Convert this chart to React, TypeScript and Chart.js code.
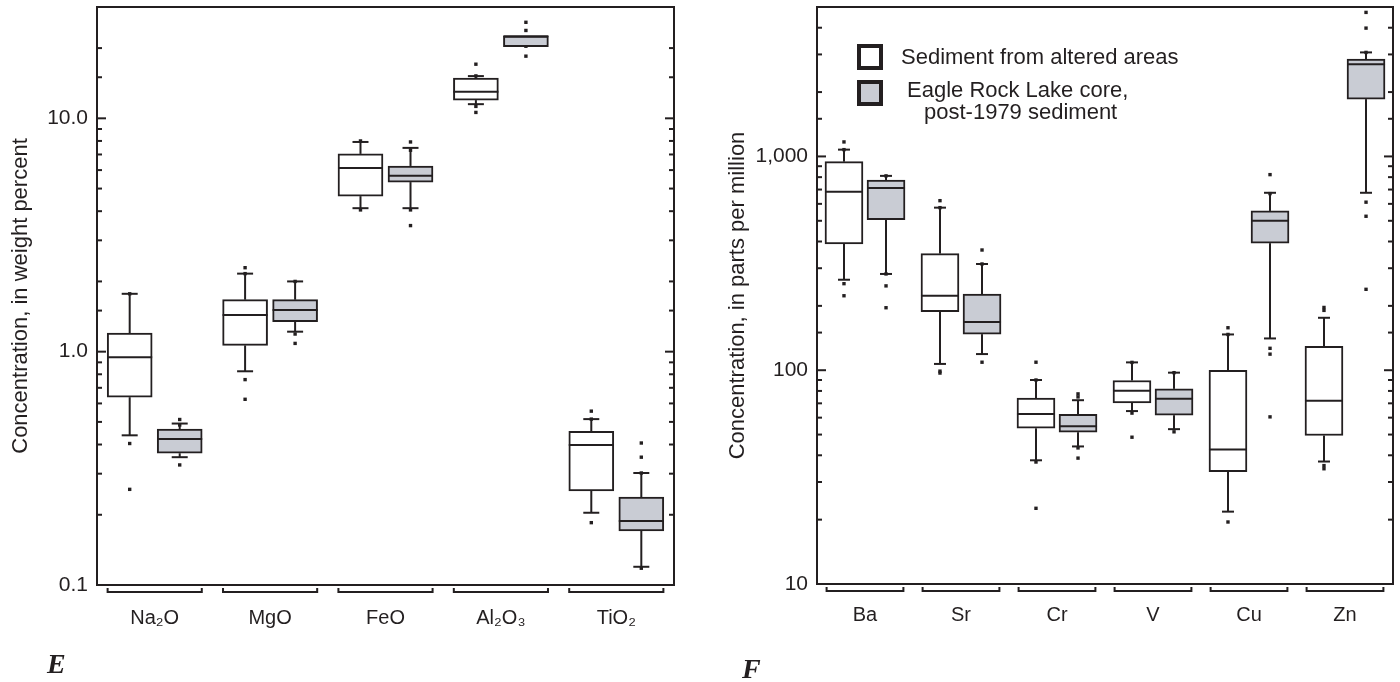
import React, { useEffect, useRef } from 'react';
import { Chart, registerables } from 'chart.js';

Chart.register(...registerables);

const INK = '#231f20';
const GRAY = '#c9ccd4';
const FONT = '"Liberation Sans", Arial, Helvetica, sans-serif';

// ---------- Panel E: major oxides (weight percent) ----------
const oxideCategories = ['Na₂O', 'MgO', 'FeO', 'Al₂O₃', 'TiO₂'];
// each row: [lower whisker, Q1, median, Q3, upper whisker]
const oxideAlteredStats = [
  [0.438, 0.638, 0.946, 1.2, 1.77],
  [0.824, 1.064, 1.435, 1.67, 2.16],
  [4.12, 4.64, 6.13, 7.04, 7.92],
  [11.5, 11.97, 13.0, 14.87, 15.17],
  [0.204, 0.253, 0.398, 0.456, 0.514],
];
const oxideLakeStats = [
  [0.353, 0.367, 0.422, 0.466, 0.492],
  [1.218, 1.343, 1.51, 1.67, 2.0],
  [4.12, 5.33, 5.67, 6.25, 7.47],
  [20.3, 20.3, 22.5, 22.5, 22.5],
  [0.1197, 0.1707, 0.188, 0.238, 0.302],
];
const oxideAlteredPoints = [
  [1.77, 0.404, 0.257],
  [2.29, 2.16, 0.759, 0.625],
  [8.0, 4.05],
  [17.06, 15.2, 11.25, 10.6],
  [0.556, 0.514, 0.185],
];
const oxideLakePoints = [
  [0.512, 0.485, 0.327],
  [2.0, 1.19, 1.085],
  [7.92, 7.3, 4.05, 3.47],
  [25.8, 23.8, 21.98, 20.37, 18.47],
  [0.406, 0.353, 0.302, 0.118],
];
const oxideTickValues = [0.1, 1, 10];
const oxideTickLabels = ['0.1', '1.0', '10.0'];
const oxideTitle = 'Concentration, in weight percent';

// ---------- Panel F: trace elements (ppm) ----------
const traceCategories = ['Ba', 'Sr', 'Cr', 'V', 'Cu', 'Zn'];
const traceAlteredStats = [
  [265, 390, 684, 945, 1076],
  [107, 188, 223, 351, 576],
  [37.9, 53.5, 62.4, 74, 90],
  [64.4, 70.4, 80.1, 89.5, 108.8],
  [21.8, 33.5, 42.6, 100, 147],
  [37.4, 49.5, 71.9, 129.4, 175.9],
];
const traceLakeStats = [
  [282, 506, 712, 776, 811],
  [119, 147.5, 168, 227, 314],
  [44, 51.3, 54.7, 62.2, 72.4],
  [53, 61.6, 73.6, 81.8, 97.4],
  [140.8, 393, 500, 556, 676],
  [676, 1854, 2700, 2850, 3066],
];
const traceAlteredPoints = [
  [1169, 1076, 254, 223],
  [621, 576, 99, 97],
  [109, 90, 37.2, 22.6],
  [108.8, 63, 48.6],
  [158, 147, 19.5],
  [196.6, 190.5, 35.8, 34.6],
];
const traceLakePoints = [
  [811, 282, 248, 196],
  [365, 314, 109],
  [77.5, 75, 43.3, 38.8],
  [97.4, 51.5],
  [822, 670, 126.6, 118.9, 60.5],
  [4718, 3983, 3066, 611, 525, 239],
];
const traceTickValues = [10, 100, 1000];
const traceTickLabels = ['10', '100', '1,000'];
const traceTitle = 'Concentration, in parts per million';

const seriesNames = ['Sediment from altered areas', 'Eagle Rock Lake core, post-1979 sediment'];
const legendLines = ['Sediment from altered areas', 'Eagle Rock Lake core,', 'post-1979 sediment'];

type Panel = {
  categories: string[];
  altered: number[][];
  lake: number[][];
  alteredPts: number[][];
  lakePts: number[][];
  yMin: number;
  yMax: number;
  tickValues: number[];
  tickLabels: string[];
  yTitle: string;
  layout: {
    yAxisWidth: number;
    xAxisHeight: number;
    padRight: number;
    padTop: number;
    titlePad: number;
    xLabelPad: number;
    boxOffset: number; // in category units, from category centre
    boxWidth: number; // px
    cap: number;
    bracket: number;
  };
};

const panelE: Panel = {
  categories: oxideCategories,
  altered: oxideAlteredStats,
  lake: oxideLakeStats,
  alteredPts: oxideAlteredPoints,
  lakePts: oxideLakePoints,
  yMin: 0.1,
  yMax: 30,
  tickValues: oxideTickValues,
  tickLabels: oxideTickLabels,
  yTitle: oxideTitle,
  layout: { yAxisWidth: 97, xAxisHeight: 97, padRight: 26, padTop: 7, titlePad: 8, xLabelPad: 21, boxOffset: 0.2167, boxWidth: 45, cap: 8, bracket: 0.408 },
};

const panelF: Panel = {
  categories: traceCategories,
  altered: traceAlteredStats,
  lake: traceLakeStats,
  alteredPts: traceAlteredPoints,
  lakePts: traceLakePoints,
  yMin: 10,
  yMax: 5000,
  tickValues: traceTickValues,
  tickLabels: traceTickLabels,
  yTitle: traceTitle,
  layout: { yAxisWidth: 117, xAxisHeight: 98, padRight: 7, padTop: 7, titlePad: 25, xLabelPad: 19, boxOffset: 0.219, boxWidth: 38, cap: 6, bracket: 0.40 },
};

const boxExtras = {
  id: 'boxExtras',
  afterDatasetsDraw(chart: any, _args: any, opts: any) {
    const { ctx, chartArea: a, scales } = chart;
    const y = scales.y;
    const x = scales.x;
    const seg = (x1: number, y1: number, x2: number, y2: number) => {
      ctx.beginPath();
      ctx.moveTo(x1, y1);
      ctx.lineTo(x2, y2);
      ctx.stroke();
    };
    ctx.save();
    ctx.strokeStyle = INK;
    ctx.lineWidth = 2;
    ctx.lineCap = 'butt';
    (opts.stats as number[][][]).forEach((series, d) => {
      const meta = chart.getDatasetMeta(d);
      series.forEach((s, j) => {
        const bar = meta.data[j];
        if (!bar) return;
        const cx = bar.x;
        const w = bar.width;
        const [lo, q1, med, q3, hi] = s.map((v) => y.getPixelForValue(v));
        if (hi < q3 - 0.5) {
          seg(cx, q3, cx, hi);
          seg(cx - opts.cap, hi, cx + opts.cap, hi);
        }
        if (lo > q1 + 0.5) {
          seg(cx, q1, cx, lo);
          seg(cx - opts.cap, lo, cx + opts.cap, lo);
        }
        seg(cx - w / 2, med, cx + w / 2, med);
      });
    });
    // frame
    ctx.strokeRect(a.left, a.top, a.right - a.left, a.bottom - a.top);
    // inward tick marks on both vertical sides
    y.ticks.forEach((t: any) => {
      const p = y.getPixelForValue(t.value);
      if (p <= a.top + 2 || p >= a.bottom - 2) return;
      const lg = Math.log10(t.value);
      const major = Math.abs(lg - Math.round(lg)) < 1e-6;
      const len = major ? 9 : 5;
      seg(a.left, p, a.left + len, p);
      seg(a.right - len, p, a.right, p);
    });
    // category brackets under the axis
    const n = x.ticks.length;
    const cw = (a.right - a.left) / n;
    for (let i = 0; i < n; i++) {
      const c = x.getPixelForTick(i);
      const h = cw * opts.bracket;
      ctx.beginPath();
      ctx.moveTo(c - h, a.bottom + 3);
      ctx.lineTo(c - h, a.bottom + 7);
      ctx.lineTo(c + h, a.bottom + 7);
      ctx.lineTo(c + h, a.bottom + 3);
      ctx.stroke();
    }
    ctx.restore();
  },
};

function buildConfig(p: Panel): any {
  const L = p.layout;
  const n = p.categories.length;
  const off = L.boxOffset;
  const pts = (rows: number[][], shift: number) =>
    rows.flatMap((vals, i) => vals.map((v) => ({ x: i + shift, y: v })));
  const boxes = (rows: number[][], shift: number) => rows.map((s, i) => ({ x: i + shift, y: [s[1], s[3]] }));
  const isTick = (v: number) => p.tickValues.findIndex((t) => Math.abs(Math.log10(t) - Math.log10(v)) < 1e-6);
  const pointSet = (label: string, data: any[]) => ({
    type: 'scatter',
    label,
    data,
    xAxisID: 'xs',
    yAxisID: 'y',
    pointStyle: 'rect',
    pointRadius: 2.4,
    pointBorderWidth: 0,
    backgroundColor: INK,
    borderColor: INK,
    showLine: false,
  });
  const boxSet = (label: string, data: any[], fill: string) => ({
    type: 'bar',
    label,
    data,
    grouped: false,
    barThickness: L.boxWidth,
    backgroundColor: fill,
    borderColor: INK,
    borderWidth: 2,
    borderSkipped: false,
    xAxisID: 'xs',
    yAxisID: 'y',
  });
  return {
    type: 'bar',
    data: {
      labels: p.categories,
      datasets: [
        boxSet(seriesNames[0], boxes(p.altered, -off), '#ffffff'),
        boxSet(seriesNames[1], boxes(p.lake, off), GRAY),
        pointSet(seriesNames[0] + ' (points)', pts(p.alteredPts, -off)),
        pointSet(seriesNames[1] + ' (points)', pts(p.lakePts, off)),
      ],
    },
    options: {
      responsive: false,
      animation: false,
      events: [],
      layout: { padding: { left: 0, right: L.padRight, top: L.padTop, bottom: 0 } },
      plugins: {
        legend: { display: false },
        tooltip: { enabled: false },
        boxExtras: { stats: [p.altered, p.lake], cap: L.cap, bracket: L.bracket },
      },
      scales: {
        x: {
          type: 'category',
          offset: true,
          grid: { display: false, drawTicks: false },
          border: { display: false },
          ticks: {
            font: { family: FONT, size: 20 },
            color: INK,
            padding: L.xLabelPad,
            maxRotation: 0,
            autoSkip: false,
          },
          afterFit: (s: any) => {
            s.height = L.xAxisHeight;
            s.paddingLeft = 0;
            s.paddingRight = 0;
          },
        },
        xs: {
          type: 'linear',
          display: false,
          offset: false,
          grid: { offset: false },
          min: -0.5,
          max: n - 0.5,
          bounds: 'data',
        },
        y: {
          type: 'logarithmic',
          min: p.yMin,
          max: p.yMax,
          grid: { display: false, drawTicks: false },
          border: { display: false },
          ticks: {
            autoSkip: false,
            padding: 9,
            font: { family: FONT, size: 21 },
            color: INK,
            callback: (v: number) => {
              const k = isTick(Number(v));
              return k >= 0 ? p.tickLabels[k] : '';
            },
          },
          title: {
            display: true,
            text: p.yTitle,
            font: { family: FONT, size: 22 },
            color: INK,
            padding: { top: L.titlePad, bottom: 0 },
          },
          afterFit: (s: any) => {
            s.width = L.yAxisWidth;
            s.paddingTop = 0;
            s.paddingBottom = 0;
          },
        },
      },
    },
    plugins: [boxExtras],
  };
}

function BoxPanel({ panel }: { panel: Panel }) {
  const ref = useRef<HTMLCanvasElement>(null);
  useEffect(() => {
    if (!ref.current) return;
    const chart = new Chart(ref.current, buildConfig(panel));
    return () => chart.destroy();
  }, [panel]);
  return <canvas ref={ref} width={700} height={682} style={{ display: 'block', width: 700, height: 682 }} />;
}

const abs = (left: number, top: number): React.CSSProperties => ({ position: 'absolute', left, top });

export default function App() {
  const textStyle: React.CSSProperties = {
    fontFamily: FONT,
    fontSize: 22,
    lineHeight: '22px',
    color: INK,
    whiteSpace: 'nowrap',
  };
  const sq = (bg: string): React.CSSProperties => ({
    width: 26,
    height: 26,
    boxSizing: 'border-box',
    border: `4px solid ${INK}`,
    background: bg,
  });
  const letter: React.CSSProperties = {
    fontFamily: '"Liberation Serif", "Times New Roman", serif',
    fontStyle: 'italic',
    fontWeight: 'bold',
    fontSize: 28,
    lineHeight: '28px',
    color: INK,
  };
  return (
    <div style={{ position: 'absolute', left: 0, top: 0, width: 1400, height: 682, background: '#fff', overflow: 'hidden' }}>
      <div style={abs(0, 0)}>
        <BoxPanel panel={panelE} />
      </div>
      <div style={abs(700, 0)}>
        <BoxPanel panel={panelF} />
      </div>
      <div style={{ ...abs(857, 44), ...sq('#ffffff') }} />
      <div style={{ ...abs(857, 80), ...sq(GRAY) }} />
      <div style={{ ...abs(901, 46), ...textStyle }}>{legendLines[0]}</div>
      <div style={{ ...abs(907, 79), ...textStyle }}>{legendLines[1]}</div>
      <div style={{ ...abs(924, 101), ...textStyle }}>{legendLines[2]}</div>
      <div style={{ ...abs(47, 650), ...letter }}>E</div>
      <div style={{ ...abs(742, 655), ...letter }}>F</div>
    </div>
  );
}
